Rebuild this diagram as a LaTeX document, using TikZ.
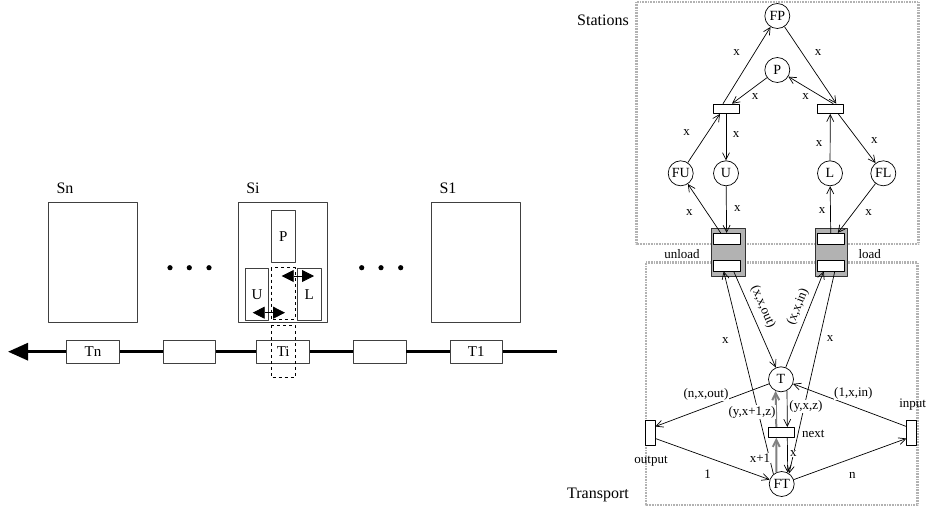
\documentclass[tikz,border=0pt]{standalone}
\usepackage{fontspec}
\setmainfont{Liberation Serif}
\usetikzlibrary{arrows.meta}
\tikzset{
  station/.style={draw=black!75, line width=0.9pt, minimum width=88.6pt, minimum height=120pt, inner sep=0pt},
  wagon/.style={draw=black!75, fill=white, line width=0.9pt, minimum width=52.6pt, minimum height=23.3pt, inner sep=0pt, font=\fontsize{15}{17}\selectfont},
  part/.style={draw=black!75, line width=0.9pt, minimum width=23.5pt, minimum height=52.3pt, inner sep=0pt, font=\fontsize{15}{17}\selectfont},
  place/.style={circle, draw, line width=0.7pt, minimum size=25pt, inner sep=0pt, font=\fontsize{14}{16}\selectfont},
  trans/.style={draw, fill=white, line width=0.7pt, minimum width=26pt, minimum height=9.5pt, inner sep=0pt},
  dock/.style={draw=black!80, fill=gray!60, line width=0.9pt, inner sep=0pt},
  lbl/.style={fill=white, inner sep=0.6pt, font=\fontsize{13}{15}\selectfont},
  tag/.style={inner sep=0pt, font=\fontsize{13}{15}\selectfont},
  title/.style={inner sep=0pt, font=\fontsize{16}{18}\selectfont},
  area/.style={draw=black!30, line width=2.6pt, dash pattern=on 0.8pt off 0.8pt},
  arc/.style={->, line width=0.7pt},
  move/.style={->, line width=2pt, draw=black!50},
  swaparrow/.style={line width=0.8pt, {Triangle[length=12pt,width=12pt]}-{Triangle[length=12pt,width=12pt]}}
}
\begin{document}
\begin{tikzpicture}[x=1pt, y=-1pt, line join=round, >={Straight Barb[length=7pt,width=7pt]}]
\useasboundingbox (0,0) rectangle (927,511);
% line of stations
\node[station] (Sn) at (93,262.7) {};
\node[station] (Si) at (283,262.7) {};
\node[station] (S1) at (476.2,262.7) {};
\node[title] (snlbl) at (65,188.3) {Sn};
\node[title] (silbl) at (253,188.3) {Si};
\node[title] (s1lbl) at (448,188.3) {S1};
\foreach \x in {170,189.3,209,361.7,381,400.7}
  \fill (\x,267.7) circle (2.6pt);
\node[part] (pp) at (283.3,236.7) {P};
\node[part] (pu) at (257,294.2) {U};
\node[part] (pl) at (309.3,294.2) {L};
\node[wagon] (Tn) at (93,351.7) {Tn};
\node[wagon] (w1) at (189.3,351.7) {};
\node[wagon] (Ti) at (283.2,351.7) {Ti};
\node[wagon] (w2) at (379.7,351.7) {};
\node[wagon] (T1) at (476.3,351.7) {T1};
\coordinate (lineend) at (556.7,351.7);
\coordinate (linetip) at (8,351.7);
\draw[line width=3pt, -{Triangle[length=20pt,width=17pt]}] (lineend) -- (T1) -- (w2) -- (Ti) -- (w1) -- (Tn) -- (linetip);
\draw[dashed, line width=0.8pt] (271,267.7) rectangle (295,319.3);
\draw[dashed, line width=0.8pt] (271,325) rectangle (295,377.3);
\coordinate (la1) at (281.7,276);
\coordinate (la2) at (314,276);
\coordinate (ua1) at (252.7,312.7);
\coordinate (ua2) at (285,312.7);
\draw[swaparrow] (la1) -- (la2);
\draw[swaparrow] (ua1) -- (ua2);
% net
\draw[area] (636.7,2) rectangle (918.3,244);
\draw[area] (646,262.7) rectangle (917.7,505);
\node[title, anchor=east] (stations) at (629,20) {Stations};
\node[title, anchor=east] (transport) at (629,495) {Transport};
\node[place] (FP) at (777.3,16) {FP};
\node[place] (P) at (777.3,70) {P};
\node[place] (FU) at (680.7,173.3) {FU};
\node[place] (U) at (726,173.3) {U};
\node[place] (L) at (830,173.3) {L};
\node[place] (FL) at (883.3,173.3) {FL};
\node[trans] (tu) at (726,108.8) {};
\node[trans] (tl) at (830.3,108.8) {};
\node[dock, minimum width=34pt, minimum height=47.7pt] (unload) at (728,252.2) {};
\node[trans, minimum width=26.5pt, minimum height=11pt] (uin) at (726.7,238.8) {};
\node[trans, minimum width=26.5pt, minimum height=11pt] (uout) at (726.7,265.5) {};
\node[dock, minimum width=32pt, minimum height=47.7pt] (load) at (831,252.2) {};
\node[trans, minimum width=26.3pt, minimum height=11pt] (lin) at (830.8,238.8) {};
\node[trans, minimum width=26.3pt, minimum height=11pt] (lout) at (830.8,265.5) {};
\node[tag] (unloadlbl) at (682,254) {unload};
\node[tag] (loadlbl) at (869.7,254) {load};
\node[place] (T) at (781,379.3) {T};
\node[place] (FT) at (781.7,484) {FT};
\node[trans, minimum height=10pt] (next) at (781.3,432.3) {};
\node[trans, minimum width=10pt, minimum height=25pt] (output) at (650,432.5) {};
\node[trans, minimum width=9.5pt, minimum height=25pt] (input) at (911.5,432.5) {};
\draw[arc] ([xshift=-3pt]tu.north) -- (FP);
\draw[arc] (FP) -- ([xshift=6pt]tl.north);
\draw[arc] (P) -- ([xshift=6pt]tu.north);
\draw[arc] ([xshift=3pt]tl.north) -- (P);
\draw[arc] (FU) -- ([xshift=-6pt]tu.south);
\draw[arc] (tu) -- (U);
\draw[arc] (L) -- (tl);
\draw[arc] ([xshift=8pt]tl.south) -- (FL);
\draw[arc] ([xshift=-6pt]uin.north) -- (FU);
\draw[arc] (U) -- (uin);
\draw[arc] (lin) -- (L);
\draw[arc] (FL) -- ([xshift=7pt]lin.north);
\draw[arc] ([xshift=7pt]uout.south) -- (T);
\draw[arc] (FT.130) -- ([xshift=-3pt]uout.south);
\draw[arc] (T) -- ([xshift=-7pt]lout.south);
\draw[arc] ([xshift=4pt]lout.south) -- (FT.55);
\draw[arc] (T.-62) -- ([xshift=6pt]next.north);
\draw[move] ([xshift=-5pt]next.north) -- (T.-115);
\draw[move] (FT.115) -- ([xshift=-5pt]next.south);
\draw[arc] ([xshift=6pt]next.south) -- (FT.62);
\draw[arc] (T) -- ([yshift=6pt]output.east);
\draw[arc] ([yshift=-6pt]output.east) -- (FT);
\draw[arc] ([yshift=6pt]input.west) -- (T);
\draw[arc] (FT) -- ([yshift=-6pt]input.west);
\foreach \p [count=\i] in {(736.7,52.3),(818,52.3),(755,96.7),(805.7,96.7),(686.7,132.7),(736,135),(819,144),(874.3,141),(689.3,212.7),(737.3,208.3),(822,210.7),(868.7,212.7),(725.3,340.7),(830,339)}
  \node[lbl] (x\i) at \p {x};
\node[tag, rotate=-67] (xxout) at (763,307) {(x,x,out)};
\node[tag, rotate=68] (xxin) at (798,307) {(x,x,in)};
\node[lbl] (nxout) at (706,394.3) {(n,x,out)};
\node[lbl] (yx1z) at (752,412) {(y,x+1,z)};
\node[lbl] (yxz) at (806,406.7) {(y,x,z)};
\node[lbl] (nextlbl) at (813.3,434.3) {next};
\node[lbl] (xplus) at (760,458.3) {x+1};
\node[lbl] (xnext) at (793.3,453.3) {x};
\node[lbl] (onexin) at (853.3,393.3) {(1,x,in)};
\node[lbl] (one) at (707.7,474.3) {1};
\node[lbl] (enn) at (852.3,475) {n};
\node[tag] (inputlbl) at (912.7,405) {input};
\node[tag] (outputlbl) at (651,461.7) {output};
\end{tikzpicture}
\end{document}
